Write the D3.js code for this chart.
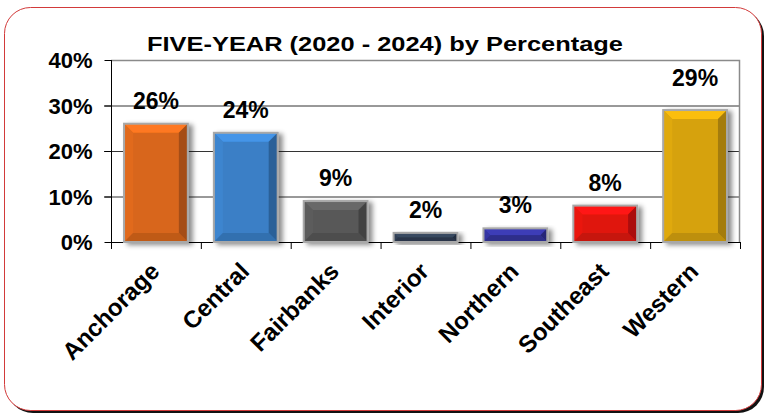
<!DOCTYPE html>
<html>
<head>
<meta charset="utf-8">
<script src="https://cdn.jsdelivr.net/npm/d3@7"></script>
<style>
  html, body { margin: 0; padding: 0; background: #fff; }
  svg { display: block; font-family: "Liberation Sans", Arial, sans-serif; }
</style>
</head>
<body>
<svg id="chart" width="765" height="414"></svg>
<script>
// Regional share over five years
const regions = ["Anchorage", "Central", "Fairbanks", "Interior", "Northern", "Southeast", "Western"];
const shares = [26, 24, 9, 2, 3, 8, 29];
const barColors = ["#d8661c", "#3a7fc6", "#585858", "#2f3d52", "#34349c", "#e0140f", "#d6a20e"];
const yTicks = [0, 10, 20, 30, 40];
const titleText = "FIVE-YEAR (2020 - 2024) by Percentage";

const svg = d3.select("#chart");
const plot = { left: 111, right: 740, top: 60, bottom: 242 };

const defs = svg.append("defs");
const shadow = defs.append("filter").attr("id", "barShadow")
  .attr("x", "-20%").attr("y", "-20%").attr("width", "150%").attr("height", "150%");
shadow.append("feDropShadow").attr("dx", 4).attr("dy", 2).attr("stdDeviation", 2.5)
  .attr("flood-color", "#000").attr("flood-opacity", 0.45);

// Rounded frame with dark offset shadow
svg.append("rect").attr("x", 7).attr("y", 10).attr("width", 757).attr("height", 403)
  .attr("rx", 26).attr("fill", "#111");
svg.append("rect").attr("x", 4.5).attr("y", 7.5).attr("width", 757).attr("height", 403)
  .attr("rx", 26).attr("fill", "#fff").attr("stroke", "#d23a3a").attr("stroke-width", 1);

const x = d3.scaleBand().domain(regions).range([plot.left, plot.right]).paddingInner(0.29).paddingOuter(0.145);
const y = d3.scaleLinear().domain([0, 40]).range([plot.bottom, plot.top]);

// Gridlines
svg.append("g").selectAll("line").data(yTicks.filter(t => t > 0 && t < 40)).join("line")
  .attr("x1", plot.left - 7).attr("x2", plot.right)
  .attr("y1", d => y(d) + 0.5).attr("y2", d => y(d) + 0.5)
  .attr("stroke", "#333").attr("stroke-width", 1);

// Plot-area border (top and right)
svg.append("path")
  .attr("d", `M${plot.left},${plot.top + 0.5}H${plot.right - 0.5}V${plot.bottom}`)
  .attr("fill", "none").attr("stroke", "#8a8a8a").attr("stroke-width", 1.5);

// Y axis
const yAxis = svg.append("g").attr("transform", `translate(${plot.left + 0.5},0)`)
  .call(d3.axisLeft(y).tickValues(yTicks).tickFormat(d => d + "%").tickSize(7).tickPadding(12));
yAxis.select(".domain").attr("stroke", "#000").attr("d", `M0,${plot.top}V${plot.bottom + 7}`);
yAxis.selectAll(".tick line").attr("stroke", "#000");
yAxis.selectAll(".tick text").attr("font-size", 22).attr("font-weight", "bold").attr("fill", "#000")
  .attr("font-family", "Liberation Sans, Arial, sans-serif").attr("dy", "0.36em");

// X axis with boundary ticks
const xAxisG = svg.append("g");
xAxisG.append("line").attr("x1", plot.left).attr("x2", plot.right)
  .attr("y1", plot.bottom + 0.5).attr("y2", plot.bottom + 0.5).attr("stroke", "#000");
const step = x.step();
const bounds = d3.range(regions.length + 1).map(i => plot.left + i * step);
xAxisG.selectAll("line.tk").data(bounds).join("line").attr("class", "tk")
  .attr("x1", d => d + 0.5).attr("x2", d => d + 0.5)
  .attr("y1", plot.bottom).attr("y2", plot.bottom + 7).attr("stroke", "#000");

// Category labels, rotated
xAxisG.selectAll("text.cat").data(regions).join("text").attr("class", "cat")
  .attr("transform", d => `translate(${x(d) + x.bandwidth() / 2 - 7},${plot.bottom + 19}) rotate(-45)`)
  .attr("text-anchor", "end").attr("dy", "0.7em")
  .attr("font-size", 24).attr("font-weight", "bold").attr("fill", "#000")
  .text(d => d);

// Beveled bars
function shade(c, k) {
  const col = d3.rgb(c);
  return k > 0 ? col.brighter(k).formatHex() : col.darker(-k).formatHex();
}
const bars = svg.append("g").selectAll("g.bar").data(regions.map((r, i) => ({ r, v: shares[i], c: barColors[i] })))
  .join("g").attr("class", "bar").attr("filter", "url(#barShadow)");

bars.each(function (d) {
  const g = d3.select(this);
  const x0 = x(d.r), w = x.bandwidth();
  const y0 = y(d.v), h = y(0) - y(d.v);
  const b = Math.min(9, h / 2, w / 2);
  const x1 = x0 + w, y1 = y0 + h;
  const poly = pts => pts.map(p => p.join(",")).join(" ");
  g.append("rect").attr("x", x0).attr("y", y0).attr("width", w).attr("height", h).attr("fill", d.c);
  g.append("polygon").attr("points", poly([[x0, y0], [x1, y0], [x1 - b, y0 + b], [x0 + b, y0 + b]])).attr("fill", shade(d.c, 0.45));
  g.append("polygon").attr("points", poly([[x0, y0], [x0 + b, y0 + b], [x0 + b, y1 - b], [x0, y1]])).attr("fill", shade(d.c, 0.12));
  g.append("polygon").attr("points", poly([[x1, y0], [x1 - b, y0 + b], [x1 - b, y1 - b], [x1, y1]])).attr("fill", shade(d.c, -0.75));
  g.append("polygon").attr("points", poly([[x0, y1], [x1, y1], [x1 - b, y1 - b], [x0 + b, y1 - b]])).attr("fill", shade(d.c, -0.35));
  g.append("rect").attr("x", x0).attr("y", y0).attr("width", w).attr("height", h)
    .attr("fill", "none").attr("stroke", "#a8a8a8").attr("stroke-width", 2);
});

// Value labels above bars
const lift = { Western: 9 };
svg.append("g").selectAll("text").data(regions).join("text")
  .attr("x", d => x(d) + x.bandwidth() / 2)
  .attr("y", (d, i) => y(shares[i]) - 15 - (lift[d] || 0))
  .attr("text-anchor", "middle").attr("font-size", 23).attr("font-weight", "bold").attr("fill", "#000")
  .text((d, i) => shares[i] + "%");

// Title
svg.append("text").attr("x", 385).attr("y", 51).attr("text-anchor", "middle")
  .attr("font-size", 21).attr("font-weight", "bold").attr("fill", "#000")
  .attr("textLength", 476).attr("lengthAdjust", "spacingAndGlyphs")
  .text(titleText);
</script>
</body>
</html>
